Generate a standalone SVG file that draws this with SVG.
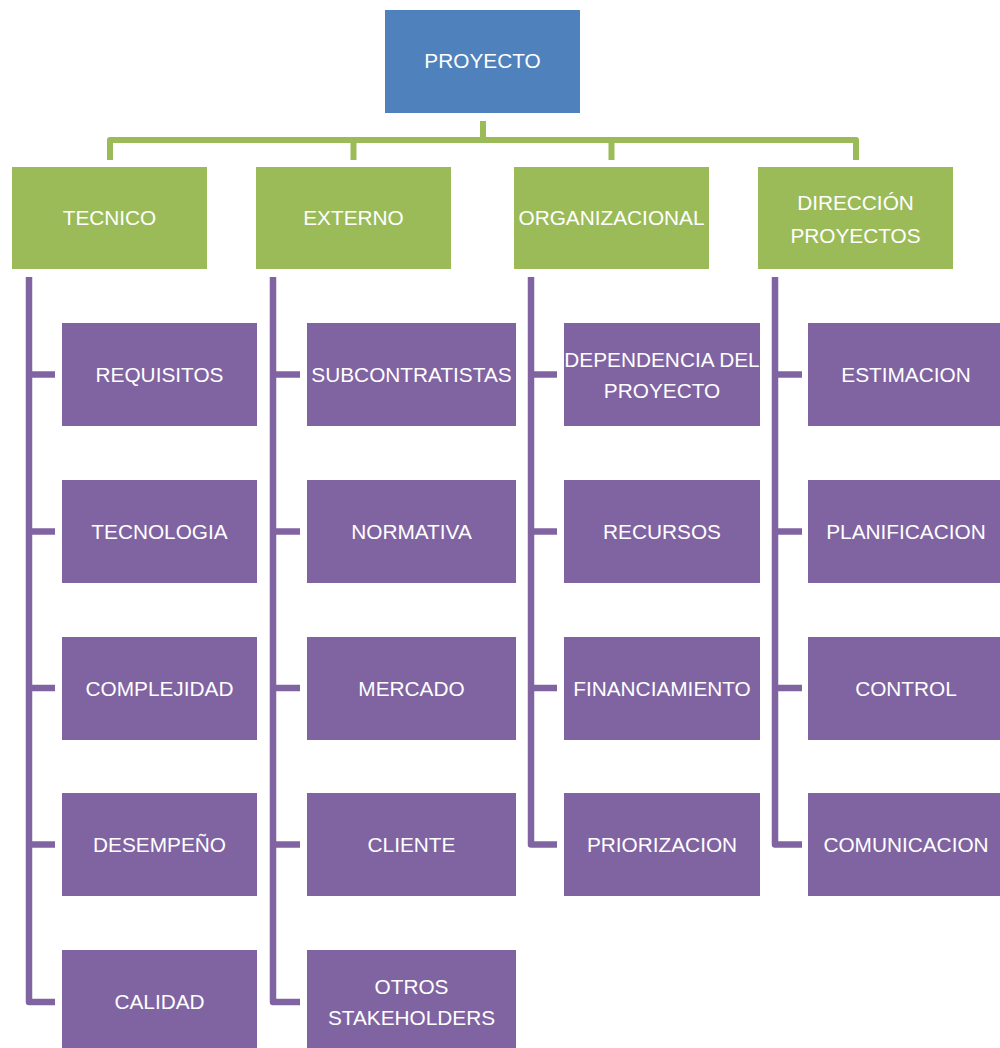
<svg xmlns="http://www.w3.org/2000/svg" width="1000" height="1048" viewBox="0 0 1000 1048">
<style>
.root{fill:#4F81BD}
.cat{fill:#9BBB59}
.sub{fill:#8064A2}
text{font-family:"Liberation Sans",Arial,sans-serif;font-size:20.8px;fill:#FFFFFF;text-anchor:middle}
.gl{fill:none;stroke:#9BBB59;stroke-width:6;stroke-linejoin:round}
.pl{fill:none;stroke:#8064A2;stroke-width:6.5;stroke-linejoin:round}
</style>
<rect width="1000" height="1048" fill="#FFFFFF"/>
<g id="connectors">
<path class="gl" d="M483,121 V140 M110,160 V140 H856 V160 M353.5,140 V160 M611.5,140 V160"/>
<path class="pl" d="M29,277 V1002 H55 M29,374.5 H55 M29,531.5 H55 M29,688 H55 M29,844.5 H55"/>
<path class="pl" d="M273,277 V1002 H300 M273,374.5 H300 M273,531.5 H300 M273,688 H300 M273,844.5 H300"/>
<path class="pl" d="M531,277 V844.5 H557 M531,374.5 H557 M531,531.5 H557 M531,688 H557"/>
<path class="pl" d="M775,277 V844.5 H802 M775,374.5 H802 M775,531.5 H802 M775,688 H802"/>
</g>
<g id="proyecto"><rect class="root" x="385" y="10" width="195" height="103"/><text x="482.5" y="68">PROYECTO</text></g>
<g id="tecnico"><rect class="cat" x="12" y="167" width="195" height="102"/><text x="109.5" y="225">TECNICO</text></g>
<g id="externo"><rect class="cat" x="256" y="167" width="195" height="102"/><text x="353.5" y="225">EXTERNO</text></g>
<g id="organizacional"><rect class="cat" x="514" y="167" width="195" height="102"/><text x="611.5" y="225">ORGANIZACIONAL</text></g>
<g id="direccion"><rect class="cat" x="758" y="167" width="195" height="102"/><text x="855.5" y="210">DIRECCIÓN</text><text x="855.5" y="243">PROYECTOS</text></g>

<g id="requisitos"><rect class="sub" x="62" y="323" width="195" height="103"/><text x="159.5" y="382">REQUISITOS</text></g>
<g id="tecnologia"><rect class="sub" x="62" y="480" width="195" height="103"/><text x="159.5" y="539">TECNOLOGIA</text></g>
<g id="complejidad"><rect class="sub" x="62" y="637" width="195" height="103"/><text x="159.5" y="696">COMPLEJIDAD</text></g>
<g id="desempeno"><rect class="sub" x="62" y="793" width="195" height="103"/><text x="159.5" y="852">DESEMPEÑO</text></g>
<g id="calidad"><rect class="sub" x="62" y="950" width="195" height="103"/><text x="159.5" y="1009">CALIDAD</text></g>

<g id="subcontratistas"><rect class="sub" x="307" y="323" width="209" height="103"/><text x="411.5" y="382">SUBCONTRATISTAS</text></g>
<g id="normativa"><rect class="sub" x="307" y="480" width="209" height="103"/><text x="411.5" y="539">NORMATIVA</text></g>
<g id="mercado"><rect class="sub" x="307" y="637" width="209" height="103"/><text x="411.5" y="696">MERCADO</text></g>
<g id="cliente"><rect class="sub" x="307" y="793" width="209" height="103"/><text x="411.5" y="852">CLIENTE</text></g>
<g id="otros"><rect class="sub" x="307" y="950" width="209" height="103"/><text x="411.5" y="994">OTROS</text><text x="411.5" y="1025">STAKEHOLDERS</text></g>

<g id="dependencia"><rect class="sub" x="564" y="323" width="196" height="103"/><text x="662" y="367">DEPENDENCIA DEL</text><text x="662" y="398">PROYECTO</text></g>
<g id="recursos"><rect class="sub" x="564" y="480" width="196" height="103"/><text x="662" y="539">RECURSOS</text></g>
<g id="financiamiento"><rect class="sub" x="564" y="637" width="196" height="103"/><text x="662" y="696">FINANCIAMIENTO</text></g>
<g id="priorizacion"><rect class="sub" x="564" y="793" width="196" height="103"/><text x="662" y="852">PRIORIZACION</text></g>

<g id="estimacion"><rect class="sub" x="808" y="323" width="197" height="103"/><text x="906" y="382">ESTIMACION</text></g>
<g id="planificacion"><rect class="sub" x="808" y="480" width="197" height="103"/><text x="906" y="539">PLANIFICACION</text></g>
<g id="control"><rect class="sub" x="808" y="637" width="197" height="103"/><text x="906" y="696">CONTROL</text></g>
<g id="comunicacion"><rect class="sub" x="808" y="793" width="197" height="103"/><text x="906" y="852">COMUNICACION</text></g>
</svg>
